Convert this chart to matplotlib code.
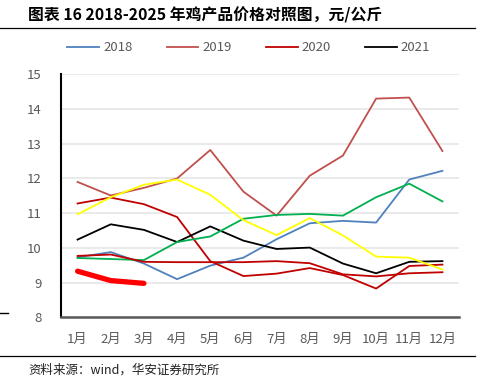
import matplotlib
matplotlib.use("Agg")
import matplotlib.pyplot as plt
from matplotlib.lines import Line2D

plt.rcParams["font.family"] = ["Noto Sans CJK SC", "DejaVu Sans"]

MONTHS = [f"{m}月" for m in range(1, 13)]

Y2018 = [9.73, 9.88, 9.55, 9.10, 9.49, 9.72, 10.25, 10.71, 10.78, 10.73, 11.97, 12.22]
Y2019 = [11.90, 11.51, 11.73, 12.00, 12.82, 11.62, 10.93, 12.08, 12.66, 14.30, 14.33, 12.79]
Y2020 = [11.28, 11.45, 11.26, 10.89, 9.62, 9.19, 9.26, 9.42, 9.22, 8.83, 9.48, 9.52]
Y2021 = [10.24, 10.68, 10.52, 10.17, 10.62, 10.21, 9.97, 10.01, 9.55, 9.27, 9.60, 9.62]
Y2022 = [9.71, 9.68, 9.65, 10.17, 10.33, 10.84, 10.95, 10.98, 10.93, 11.46, 11.85, 11.34]
Y2023 = [10.97, 11.46, 11.82, 11.97, 11.53, 10.80, 10.37, 10.86, 10.36, 9.75, 9.72, 9.38]
Y2024 = [9.77, 9.81, 9.60, 9.59, 9.59, 9.59, 9.62, 9.56, 9.24, 9.18, 9.27, 9.30]
Y2025 = [9.33, 9.06, 8.98]

fig = plt.figure(figsize=(4.86, 3.88), dpi=100)
ax = fig.add_axes([0.1255, 0.182, 0.819, 0.6265])

x = range(12)
ax.plot(x, Y2018, color="#4F81BD", lw=1.3, label="2018")
ax.plot(x, Y2019, color="#C0504D", lw=1.3, label="2019")
ax.plot(x, Y2020, color="#C00000", lw=1.3, label="2020")
ax.plot(x, Y2021, color="#000000", lw=1.3, label="2021")
ax.plot(x, Y2022, color="#00B050", lw=1.3)
ax.plot(x, Y2023, color="#FFFF00", lw=1.3)
ax.plot(x, Y2024, color="#C00000", lw=1.3)
ax.plot(range(len(Y2025)), Y2025, color="#FF0000", lw=3.8, solid_capstyle="round")

ax.set_xlim(-0.5, 11.5)
ax.set_ylim(8, 15)
ax.set_yticks(range(8, 16))
ax.set_xticks(list(x))
ax.set_xticklabels(MONTHS)
ax.grid(axis="y", color="#E6E6E6", lw=1.2)
ax.set_axisbelow(True)
for s in ["top", "right"]:
    ax.spines[s].set_visible(False)
ax.spines["left"].set_color("#000000")
ax.spines["left"].set_linewidth(1.5)
ax.spines["bottom"].set_color("#595959")
ax.spines["bottom"].set_linewidth(1.8)
ax.tick_params(length=0, colors="#595959", labelsize=9.5)
ax.tick_params(axis="y", pad=14)
ax.tick_params(axis="x", pad=11)

handles = [Line2D([], [], color=c, lw=1.3) for c in ["#4F81BD", "#C0504D", "#C00000", "#000000"]]
fig.legend(handles, ["2018", "2019", "2020", "2021"], loc="center", bbox_to_anchor=(0.512, 0.877),
           ncol=4, frameon=False, fontsize=9.5, handlelength=2.4, columnspacing=2.6,
           handletextpad=0.3, labelcolor="#595959", borderpad=0, borderaxespad=0)

fig.text(0.058, 0.961, "图表 16 2018-2025 年鸡产品价格对照图，元/公斤", fontsize=11.4,
         fontweight="bold", va="center", ha="left")
fig.add_artist(Line2D([0.0, 0.977], [0.928, 0.928], color="#000000", lw=0.9))
fig.add_artist(Line2D([0.0, 0.977], [0.082, 0.082], color="#000000", lw=0.9))
fig.add_artist(Line2D([0.0, 0.017], [0.193, 0.193], color="#000000", lw=1.0))
fig.text(0.058, 0.046, "资料来源：wind，华安证券研究所", fontsize=9, va="center", ha="left",
         color="#222222")

fig.savefig("out.png", dpi=100)
